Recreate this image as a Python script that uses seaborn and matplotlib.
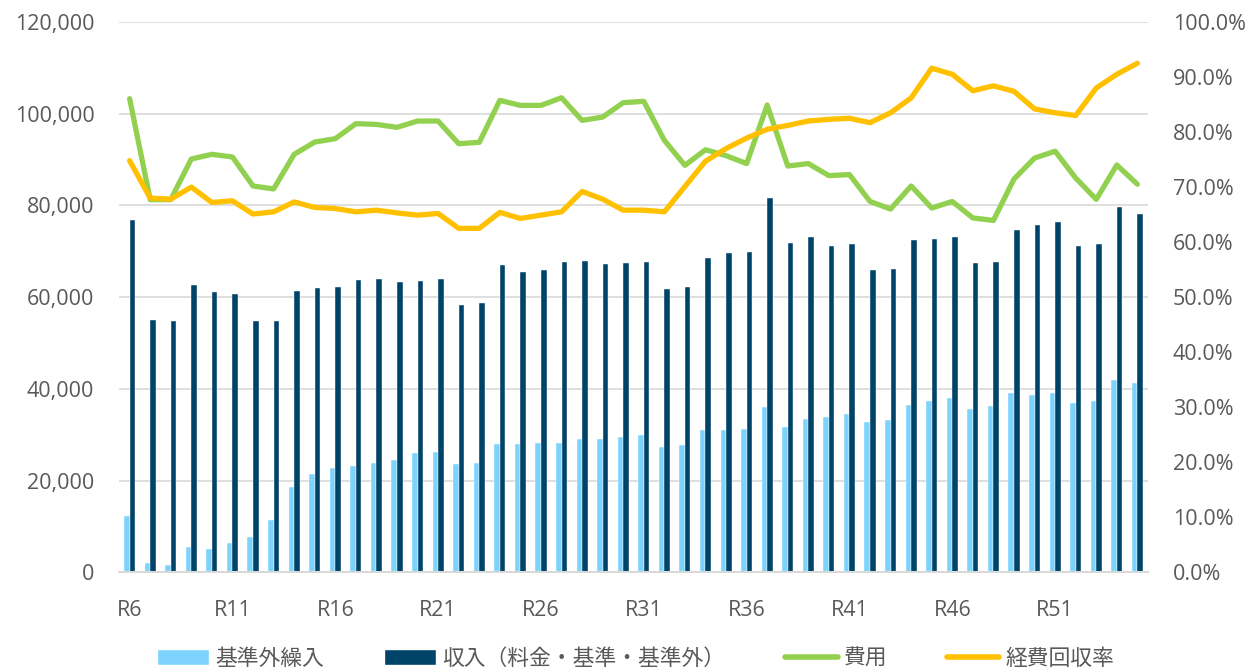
import numpy as np
import pandas as pd
import matplotlib.pyplot as plt
import seaborn as sns
from matplotlib.ticker import FuncFormatter, PercentFormatter
from matplotlib.patches import Patch
from matplotlib.lines import Line2D

# years R6..R55
years = [f"R{i}" for i in range(6, 56)]

# 基準外繰入
outside_transfer = [
    12270, 2030, 1670, 5450, 5080, 6320, 7700, 11470, 18590, 21350,
    22660, 23170, 23890, 24470, 25930, 26220, 23530, 23890, 27960, 28030,
    28250, 28180, 29050, 29120, 29560, 29920, 27380, 27740, 31100, 31080,
    31160, 36110, 31610, 33340, 33940, 34610, 32730, 33110, 36490, 37310,
    37910, 35660, 36190, 39190, 38670, 39120, 36940, 37310, 41820, 41290,
]

# 収入（料金・基準・基準外）
income = [
    76920, 54970, 54760, 62750, 61080, 60790, 54690, 54690, 61230, 61950,
    62230, 63840, 63980, 63260, 63620, 63910, 58240, 58610, 67110, 65370,
    65870, 67680, 67900, 67180, 67400, 67610, 61800, 62100, 68640, 69520,
    69900, 81690, 71850, 73050, 71250, 71550, 65850, 66220, 72530, 72750,
    73050, 67350, 67650, 74630, 75680, 76360, 71100, 71480, 79740, 78160,
]

# 費用
cost = [
    103270, 81260, 81260, 90120, 91140, 90560, 84240, 83590, 91140, 93820,
    94550, 97820, 97670, 97020, 98400, 98400, 93460, 93750, 102900, 101810,
    101810, 103480, 98540, 99270, 102400, 102690, 94190, 88740, 92140, 90850,
    89120, 101880, 88590, 89120, 86490, 86720, 80860, 79210, 84240, 79430,
    80860, 77260, 76730, 85740, 90320, 91820, 85970, 81320, 88820, 84610,
]

# 経費回収率 (%)
recovery = [
    74.8, 68.0, 67.8, 70.0, 67.2, 67.5, 65.1, 65.5, 67.3, 66.3,
    66.1, 65.5, 65.8, 65.3, 64.9, 65.2, 62.5, 62.5, 65.4, 64.3,
    64.9, 65.5, 69.2, 67.8, 65.8, 65.8, 65.5, 70.1, 74.7, 77.0,
    78.9, 80.5, 81.2, 82.0, 82.3, 82.5, 81.7, 83.5, 86.2, 91.6,
    90.5, 87.5, 88.4, 87.4, 84.2, 83.5, 83.0, 88.0, 90.5, 92.5,
]

bar_names = ["基準外繰入", "収入（料金・基準・基準外）"]
line_names = ["費用", "経費回収率"]
colors = {"基準外繰入": "#7DD3FC", "収入（料金・基準・基準外）": "#004368",
          "費用": "#92D050", "経費回収率": "#FFC000"}

sns.set_theme(style="white")
plt.rcParams["font.family"] = ["Open Sans", "Noto Sans CJK JP", "DejaVu Sans"]
text_color = "#595959"

df = pd.DataFrame({
    "year": years * 2,
    "value": outside_transfer + income,
    "series": [bar_names[0]] * len(years) + [bar_names[1]] * len(years),
})

fig = plt.figure(figsize=(12.51, 6.72), dpi=100)
ax = fig.add_axes([0.0954, 0.1484, 0.8220, 0.8189])

sns.barplot(data=df, x="year", y="value", hue="series", hue_order=bar_names,
            palette=colors, width=0.54, gap=0, saturation=1, legend=False,
            edgecolor="white", linewidth=0.3, ax=ax)

xpos = np.arange(len(years))
sns.lineplot(x=xpos, y=cost, color=colors["費用"], lw=3.8, ax=ax,
             solid_capstyle="round", solid_joinstyle="round")

ax2 = ax.twinx()
sns.lineplot(x=xpos, y=recovery, color=colors["経費回収率"], lw=3.8, ax=ax2,
             solid_capstyle="round", solid_joinstyle="round")

ax.set_xlim(-0.5, len(years) - 0.5)
ax.set_ylim(0, 120000)
ax.set_yticks(range(0, 120001, 20000))
ax.yaxis.set_major_formatter(FuncFormatter(lambda v, p: f"{v:,.0f}"))
ax2.set_ylim(0, 100)
ax2.set_yticks(range(0, 101, 10))
ax2.yaxis.set_major_formatter(PercentFormatter(xmax=100, decimals=1))

ax.set_xticks(xpos[::5])
ax.set_xticklabels(years[::5])
ax.set_xlabel("")
ax.set_ylabel("")
ax2.set_ylabel("")

ax.grid(axis="y", color="#D9D9D9", lw=1.2)
ax.set_axisbelow(True)
for a in (ax, ax2):
    for s in ("top", "left", "right"):
        a.spines[s].set_visible(False)
ax2.spines["bottom"].set_visible(False)
ax.spines["bottom"].set_color("#D9D9D9")
ax.spines["bottom"].set_linewidth(1.5)

ax.tick_params(axis="x", length=0, pad=20, labelsize=15.5, labelcolor=text_color)
ax.tick_params(axis="y", length=0, pad=18, labelsize=15.5, labelcolor=text_color)
ax2.tick_params(axis="y", length=0, pad=18, labelsize=15.5, labelcolor=text_color)

handles = [
    Patch(facecolor=colors[bar_names[0]], label=bar_names[0]),
    Patch(facecolor=colors[bar_names[1]], label=bar_names[1]),
    Line2D([], [], color=colors["費用"], lw=4, solid_capstyle="round", label="費用"),
    Line2D([], [], color=colors["経費回収率"], lw=4, solid_capstyle="round", label="経費回収率"),
]
leg = fig.legend(handles=handles, loc="center", bbox_to_anchor=(0.508, 0.019),
                 ncol=4, frameon=False, fontsize=15.7, handlelength=2.4,
                 handleheight=0.7, handletextpad=0.28, columnspacing=2.75,
                 labelcolor=text_color, borderpad=0)

fig.savefig("out.png", dpi=100)
